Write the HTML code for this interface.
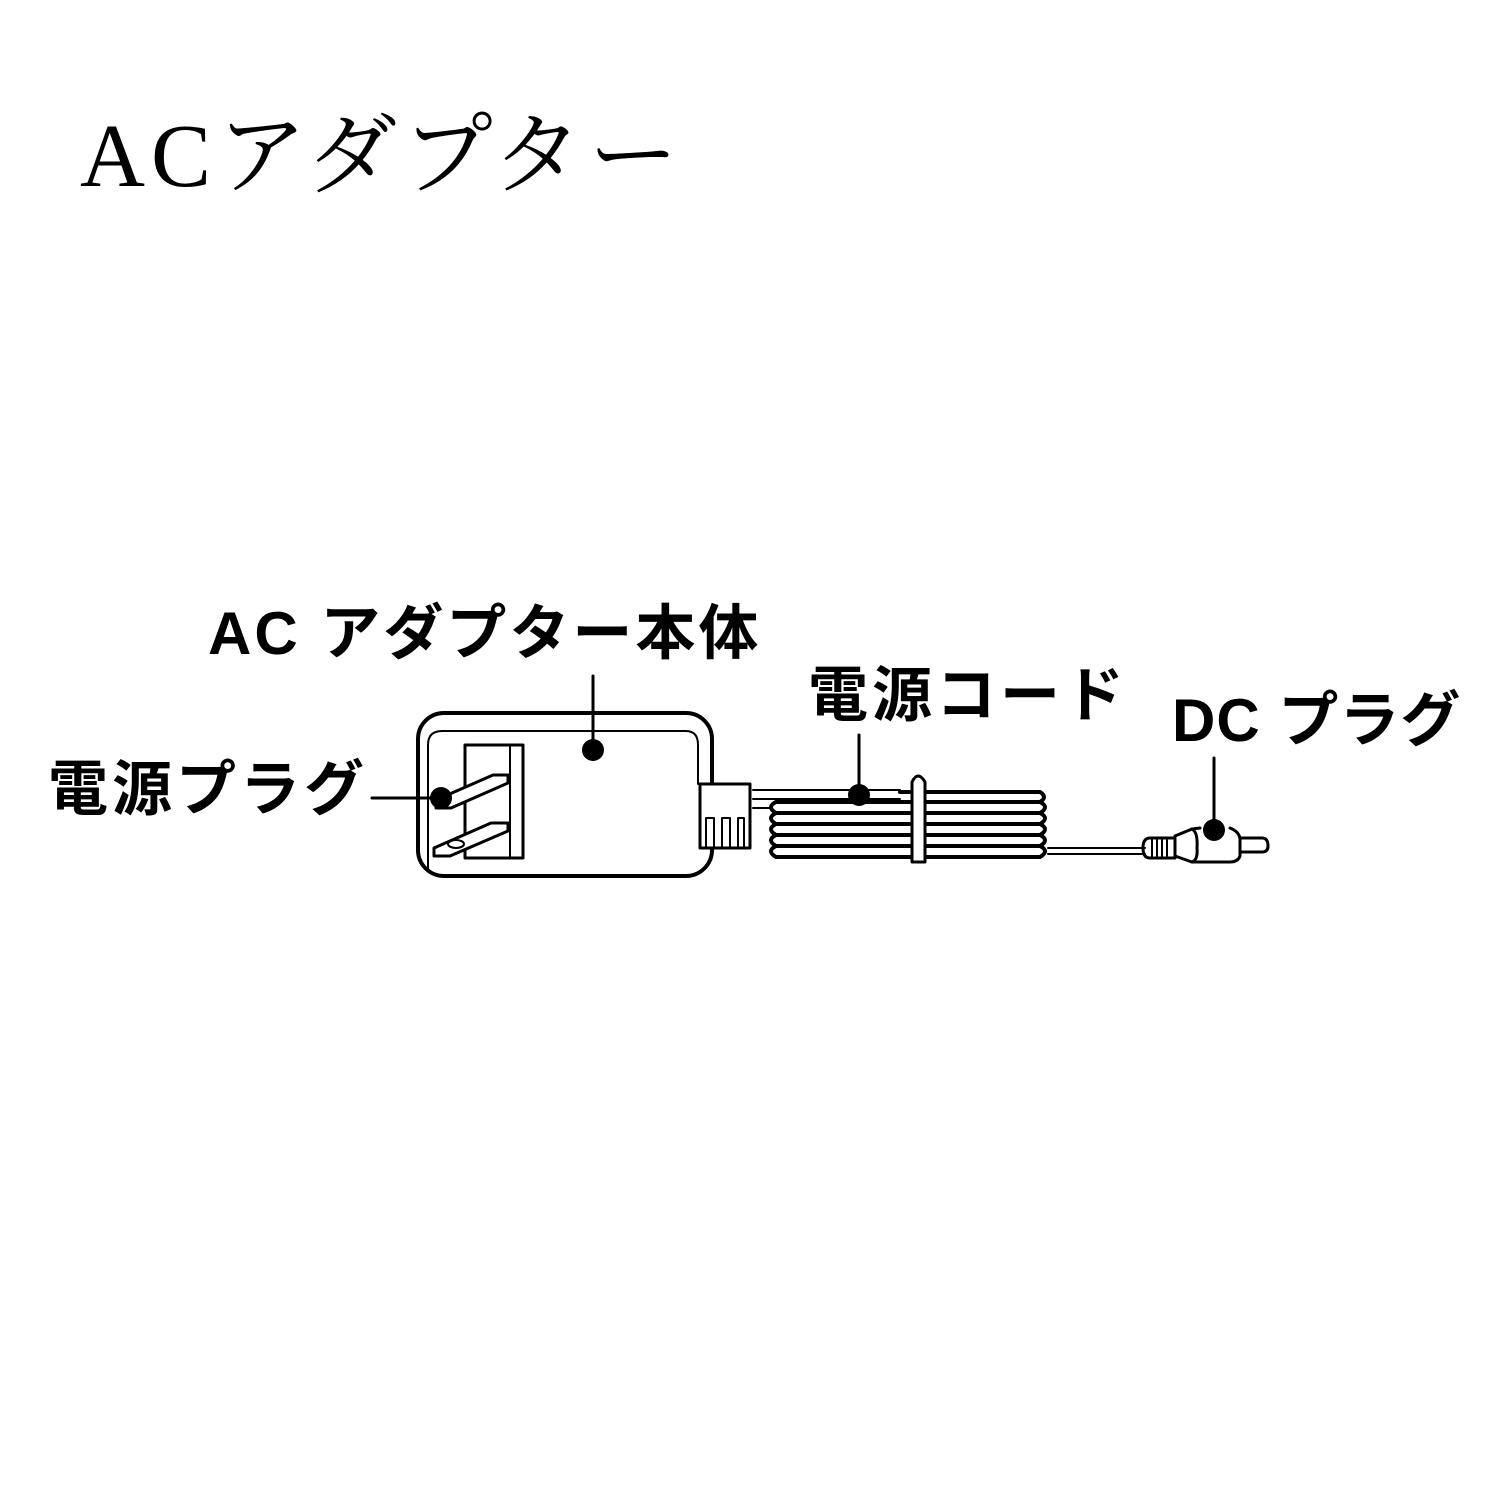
<!DOCTYPE html>
<html><head><meta charset="utf-8"><style>
html,body{margin:0;padding:0;background:#fff}
body{width:1500px;height:1500px;position:relative;overflow:hidden}
.t{position:absolute;white-space:nowrap;color:#000}
.title{left:80px;top:82px;font:400 90px "Liberation Serif","Noto Serif CJK SC",serif;letter-spacing:6px}
.b{font:700 60px "Liberation Sans","Noto Sans CJK JP",sans-serif;line-height:1}
</style></head><body>
<div class="t title">ACアダプター</div>
<div class="t b" style="left:208px;top:604px;letter-spacing:3px">AC アダプター本体</div>
<div class="t b" style="left:808px;top:666px;letter-spacing:4px">電源コード</div>
<div class="t b" style="left:1172px;top:691px;letter-spacing:1px">DC プラグ</div>
<div class="t b" style="left:48px;top:760px;letter-spacing:4px">電源プラグ</div>
<svg width="1500" height="1500" style="position:absolute;left:0;top:0" fill="none" stroke="#000" stroke-linejoin="round" stroke-linecap="round">
<rect x="418" y="713" width="294" height="163" rx="26" stroke-width="4"/>
<path d="M428 870 L428 745 Q428 731 442 731 L686 731 Q698 731 698 745 L698 784" stroke-width="2"/>
<rect x="465" y="745" width="58" height="113" stroke-width="3"/>
<line x1="510" y1="745" x2="510" y2="858" stroke-width="2"/>
<path d="M436 800 L493 775 L508 775 L508 783 L451 808 L436 808 Z" fill="#fff" stroke-width="3"/>
<path d="M434 848 L491 823 L508 823 L508 831 L450 856 L434 856 Z" fill="#fff" stroke-width="3"/>
<ellipse cx="456" cy="844" rx="8" ry="4" stroke-width="2"/>
<path d="M700 784 L750 784 L750 848 L700 848 Z" fill="#fff" stroke-width="3"/>
<path d="M706 848 V818 H714 V848 M722 848 V818 H730 V848 M738 848 V818 H744 V848" stroke-width="2"/>
<path d="M753 790 H900 M753 799 H900 M753 808 H770" stroke-width="2"/>
<g stroke-width="4">
<path d="M776 802 H1040 Q1050 807 1040 813 H776 Q766 807 776 802"/>
<path d="M776 813 H1040 Q1050 818 1040 824 H776 Q766 818 776 813"/>
<path d="M776 824 H1040 Q1050 829 1040 835 H776 Q766 829 776 824"/>
<path d="M776 835 H1040 Q1050 840 1040 846 H776 Q766 840 776 835"/>
<path d="M776 846 H1040 Q1050 851 1040 857 H776 Q766 851 776 846"/>
<path d="M900 792 H1040 Q1048 797 1040 802"/>
</g>
<path d="M912 862 V782 Q918 770 925 782 V862 Z" fill="#fff" stroke-width="3"/>
<path d="M1048 848 H1145 M1048 854 H1145" stroke-width="2"/>
<path d="M1150 838 Q1143 838 1143 848 Q1143 858 1150 858 L1175 858 L1175 838 Z" stroke-width="3"/>
<path d="M1152 840 V856 M1157 840 V856 M1162 840 V856 M1167 840 V856" stroke-width="2"/>
<path d="M1175 836 L1192 829 Q1198 832 1197 848 Q1198 860 1192 862 L1175 856" stroke-width="3"/>
<path d="M1192 829 L1200 828 M1230 828 Q1240 832 1240 840 V856 Q1238 862 1230 862 L1192 862" stroke-width="3"/>
<path d="M1240 838 H1262 Q1268 838 1268 846 Q1268 852 1262 852 H1240" stroke-width="3"/>
<g stroke-width="3">
<line x1="593" y1="676" x2="593" y2="750"/>
<line x1="372" y1="798" x2="441" y2="798"/>
<line x1="859" y1="735" x2="859" y2="795"/>
<line x1="1214" y1="758" x2="1214" y2="830"/>
</g>
<g fill="#000" stroke="none">
<circle cx="593" cy="750" r="11"/>
<circle cx="441" cy="798" r="11"/>
<circle cx="859" cy="795" r="11"/>
<circle cx="1214" cy="830" r="11"/>
</g>
</svg>
</body></html>
